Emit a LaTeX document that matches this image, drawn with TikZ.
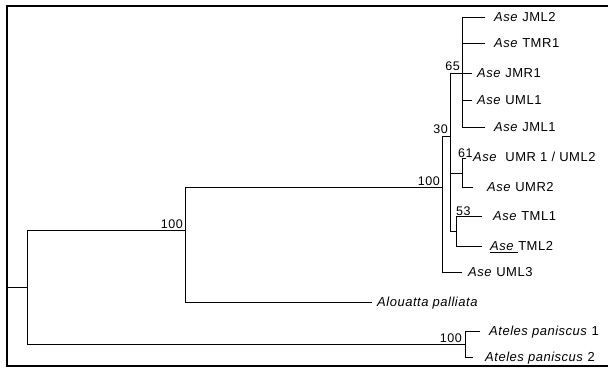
\documentclass[tikz,border=0pt]{standalone}
\usepackage{fontspec}
\setmainfont{Liberation Sans}[LetterSpace=4]
\begin{document}
\begin{tikzpicture}[x=1pt,y=-1pt,
  br/.style={line width=0.9pt, line cap=rect},
  lab/.style={anchor=base west, inner sep=0pt, font=\fontsize{13}{15}\selectfont},
  num/.style={anchor=base east, inner sep=0pt, font=\fontsize{12.5}{15}\selectfont},
  numw/.style={anchor=base west, inner sep=0pt, font=\fontsize{12.5}{15}\selectfont}]
\useasboundingbox (0,0) rectangle (608,368);
% frame
\coordinate (fTR) at (608,6);
\coordinate (fTL) at (7,6);
\coordinate (fBL) at (7,366);
\coordinate (fBR) at (608,366);
\draw[line width=1.2pt] (fTR) -- (fTL) -- (fBL) -- (fBR);
% internal nodes (entry points)
\coordinate (r0) at (7,287);
\coordinate (root) at (27,287);
\coordinate (nA) at (185,230);
\coordinate (nB) at (442,187);
\coordinate (n30) at (450,136);
\coordinate (n65) at (462,73);
\coordinate (n61) at (462,173);
\coordinate (n53) at (456,231);
\coordinate (nAt) at (465,344);
% leaf ends
\coordinate (lJML2) at (485,17);
\coordinate (lTMR1) at (485,43);
\coordinate (lJMR1) at (472,73);
\coordinate (lUML1) at (472,100);
\coordinate (lJML1) at (485,127);
\coordinate (lUMR1) at (466,158);
\coordinate (lUMR2) at (473,187);
\coordinate (lTML1) at (482,216);
\coordinate (lTML2) at (482,246);
\coordinate (lUML3) at (462,272);
\coordinate (lAlou) at (372,302);
\coordinate (lAt1) at (480,331);
\coordinate (lAt2) at (473,357);
% branches
\draw[br] (r0) -- (root);
\draw[br] (root) |- (nA);
\draw[br] (root) |- (nAt);
\draw[br] (nA) |- (nB);
\draw[br] (nA) |- (lAlou);
\draw[br] (nB) |- (n30);
\draw[br] (nB) |- (lUML3);
\draw[br] (n30) |- (n65);
\draw[br] (n30) |- (n61);
\draw[br] (n30) |- (n53);
\draw[br] (n65) |- (lJML2);
\draw[br] (n65) |- (lTMR1);
\draw[br] (n65) -- (lJMR1);
\draw[br] (n65) |- (lUML1);
\draw[br] (n65) |- (lJML1);
\draw[br] (n61) |- (lUMR1);
\draw[br] (n61) |- (lUMR2);
\draw[br] (n53) |- (lTML1);
\draw[br] (n53) |- (lTML2);
\draw[br] (nAt) |- (lAt1);
\draw[br] (nAt) |- (lAt2);
% leaf labels
\node[lab] (tJML2) at (494,21.6) {\textit{Ase} JML2};
\node[lab] (tTMR1) at (494,47.6) {\textit{Ase} TMR1};
\node[lab] (tJMR1) at (477,77.6) {\textit{Ase} JMR1};
\node[lab] (tUML1) at (477,104.6) {\textit{Ase} UML1};
\node[lab] (tJML1) at (494,131.6) {\textit{Ase} JML1};
\node[lab] (tUMR1) at (473,161.6) {\textit{Ase}\ \ UMR 1 / UML2};
\node[lab] (tUMR2) at (487,191.6) {\textit{Ase} UMR2};
\node[lab] (tTML1) at (493,220.6) {\textit{Ase} TML1};
\node[lab] (tTML2) at (490,250.6) {\underline{\textit{Ase}\ }TML2};
\node[lab] (tUML3) at (468,276.6) {\textit{Ase} UML3};
\node[lab] (tAlou) at (377,306.6) {\textit{Alouatta palliata}};
\node[lab] (tAt1) at (489,335.6) {\textit{Ateles paniscus} 1};
\node[lab] (tAt2) at (485,361.6) {\textit{Ateles paniscus} 2};
% support values
\node[num] (bA) at (183,228) {100};
\node[num] (bB) at (440,185) {100};
\node[num] (b30) at (448,133) {30};
\node[num] (b65) at (460,70) {65};
\node[numw] (b61) at (458,157) {61};
\node[numw] (b53) at (456,215) {53};
\node[num] (bAt) at (462,342) {100};
\end{tikzpicture}
\end{document}
